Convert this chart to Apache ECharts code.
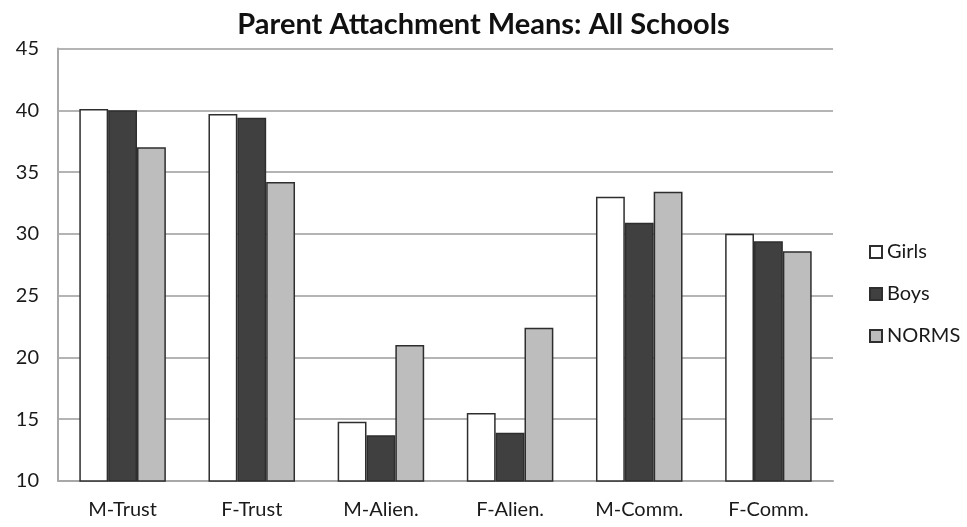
<!DOCTYPE html>
<html>
<head>
<meta charset="utf-8">
<script src="https://cdn.jsdelivr.net/npm/echarts@6/dist/echarts.min.js"></script>
<style>
  html, body { margin: 0; padding: 0; background: #fff; }
  #chart { width: 967px; height: 527px; }
</style>
</head>
<body>
<div id="chart"></div>
<script>
// Scale means per attachment subscale
const categories = ['M-Trust', 'F-Trust', 'M-Alien.', 'F-Alien.', 'M-Comm.', 'F-Comm.'];
const girls = [40.1, 39.7, 14.8, 15.5, 33.0, 30.0];
const boys  = [40.0, 39.4, 13.7, 13.9, 30.9, 29.4];
const norms = [37.0, 34.2, 21.0, 22.4, 33.4, 28.6];
const yTicks = [10, 15, 20, 25, 30, 35, 40, 45];

const FONT = 'Lato, "Open Sans", sans-serif';

function barSeries(name, data, fill) {
  return {
    name: name,
    type: 'bar',
    data: data,
    barGap: '0%',
    barCategoryGap: '33%',
    itemStyle: { color: fill, borderColor: '#2e2e2e', borderWidth: 1.5 }
  };
}

const chart = echarts.init(document.getElementById('chart'), null, { renderer: 'canvas' });
chart.setOption({
  animation: false,
  backgroundColor: '#ffffff',
  title: {
    text: 'Parent Attachment Means: All Schools',
    left: 'center',
    top: 5,
    textStyle: { fontFamily: FONT, fontWeight: 'bold', fontSize: 29, color: '#111' }
  },
  legend: {
    orient: 'vertical',
    left: 864,
    top: 237,
    itemGap: 22,
    itemWidth: 12,
    itemHeight: 12,
    icon: 'rect',
    textStyle: { fontFamily: FONT, fontSize: 20, color: '#1a1a1a' },
    data: ['Girls', 'Boys', 'NORMS']
  },
  grid: { left: 58, right: 134, top: 48.5, bottom: 46 },
  xAxis: {
    type: 'category',
    data: categories,
    axisLine: { show: true, lineStyle: { color: '#a8a8a8', width: 2 } },
    axisTick: { show: false },
    axisLabel: { fontFamily: FONT, fontSize: 20, color: '#1a1a1a', margin: 19 }
  },
  yAxis: {
    type: 'value',
    min: yTicks[0],
    max: yTicks[yTicks.length - 1],
    interval: 5,
    axisLine: { show: true, lineStyle: { color: '#a8a8a8', width: 2 } },
    axisTick: { show: false },
    splitLine: { show: true, lineStyle: { color: '#b4b4b4', width: 2 } },
    axisLabel: { fontFamily: FONT, fontSize: 20, color: '#1a1a1a', margin: 19 }
  },
  series: [
    barSeries('Girls', girls, '#ffffff'),
    barSeries('Boys', boys, '#404040'),
    barSeries('NORMS', norms, '#bdbdbd')
  ]
});
</script>
</body>
</html>
